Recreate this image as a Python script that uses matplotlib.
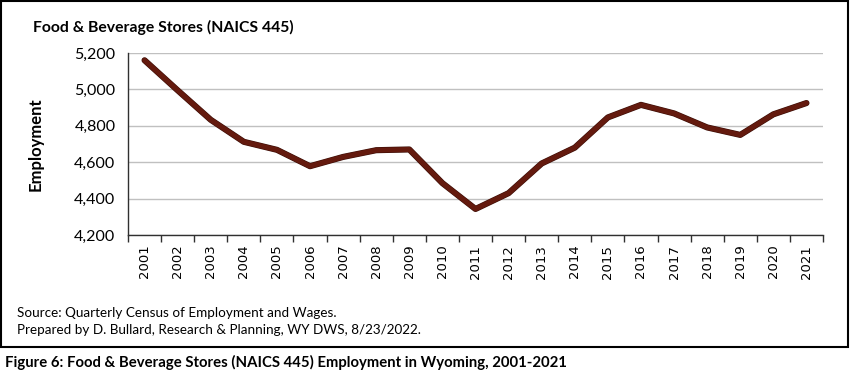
import matplotlib
matplotlib.use("Agg")
import matplotlib.pyplot as plt
from matplotlib.patches import Rectangle
import matplotlib.patheffects as pe
from matplotlib.ticker import FuncFormatter, FixedLocator

anos = [2001, 2002, 2003, 2004, 2005, 2006, 2007, 2008, 2009, 2010, 2011,
        2012, 2013, 2014, 2015, 2016, 2017, 2018, 2019, 2020, 2021]
emprego = [5160, 4995, 4833, 4712, 4668, 4578, 4629, 4666, 4670, 4485, 4343,
           4430, 4593, 4680, 4846, 4915, 4868, 4791, 4750, 4863, 4925]

titulo = "Food & Beverage Stores (NAICS 445)"
fonte1 = "Source: Quarterly Census of Employment and Wages."
fonte2 = "Prepared by D. Bullard, Research & Planning, WY DWS, 8/23/2022."
legenda = "Figure 6: Food & Beverage Stores (NAICS 445) Employment in Wyoming, 2001-2021"

plt.rcParams["font.family"] = ["Lato", "DejaVu Sans"]

fig = plt.figure(figsize=(8.5, 3.75), dpi=100)
ax = fig.add_axes([128 / 850, 140 / 375, 695 / 850, 182 / 375])

x = list(range(len(anos)))
ax.plot(x, emprego, color="#641a0e", lw=3.6, solid_capstyle="round",
        solid_joinstyle="round",
        path_effects=[pe.Stroke(linewidth=4.4, foreground="#3a0d06"), pe.Normal()])

ax.set_xlim(-0.5, len(anos) - 0.5)
ax.set_ylim(4200, 5200)
ax.set_yticks([4200, 4400, 4600, 4800, 5000, 5200])
ax.yaxis.set_major_formatter(FuncFormatter(lambda v, p: f"{int(v):,}"))
ax.tick_params(axis="y", length=0, pad=9, labelsize=11.5)
ax.grid(axis="y", color="#c0c0c0", lw=1)
ax.set_axisbelow(True)

# marcas entre as categorias, rótulos centrados
ax.xaxis.set_major_locator(FixedLocator([i - 0.5 for i in range(len(anos) + 1)]))
ax.xaxis.set_major_formatter(FuncFormatter(lambda v, p: ""))
ax.xaxis.set_minor_locator(FixedLocator(x))
ax.set_xticklabels([str(a) for a in anos], minor=True, rotation=90,
                   family="DejaVu Sans", fontsize=9.5)
ax.tick_params(axis="x", which="major", length=5, width=1, color="#303030", direction="out")
ax.tick_params(axis="x", which="minor", length=0, pad=7)

for s in ["top", "right"]:
    ax.spines[s].set_visible(False)
for s in ["left", "bottom"]:
    ax.spines[s].set_color("#303030")
    ax.spines[s].set_linewidth(1)

ax.set_ylabel("Employment", fontsize=12, fontweight="bold", labelpad=22)

fig.text(33 / 850, 1 - 27 / 375, titulo, fontsize=11.3, fontweight="bold", va="center")
fig.text(17 / 850, 1 - 313 / 375, fonte1, fontsize=9.7, va="center")
fig.text(17 / 850, 1 - 330 / 375, fonte2, fontsize=9.7, va="center")
fig.text(5 / 850, 1 - 362 / 375, legenda, fontsize=10.7, fontweight="bold", va="center")

fig.patches.append(Rectangle((1 / 850, 1 - 347 / 375), 847 / 850, 346 / 375,
                             transform=fig.transFigure, fill=False,
                             edgecolor="black", lw=1.5))

fig.savefig("out.png", dpi=100)
